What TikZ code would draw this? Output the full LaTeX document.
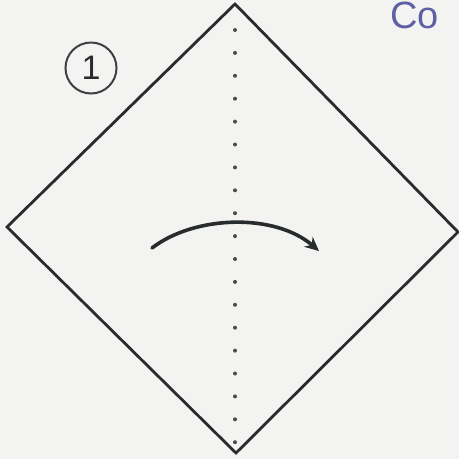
\documentclass[tikz,border=0pt]{standalone}
\usepackage{fontspec}
\setmainfont{Liberation Sans}
\usetikzlibrary{arrows.meta}
\definecolor{paper}{RGB}{243,244,241}
\definecolor{ink}{RGB}{40,44,44}
\definecolor{pen}{RGB}{95,95,165}
\tikzset{
  fold/.style={draw=ink, line width=2.8pt, line join=miter},
  crease/.style={fill=ink!85},
  turn/.style={draw=ink, line width=3.6pt, line cap=round, -{Stealth[length=14pt,width=13pt]}},
  stepnum/.style={circle, draw=ink!90, line width=2pt, minimum size=51pt, inner sep=0pt, font=\fontsize{34}{34}\selectfont, text=ink},
  note/.style={text=pen, font=\fontsize{38}{38}\selectfont, inner sep=0pt, anchor=north west}
}
\begin{document}
\begin{tikzpicture}[x=1pt,y=-1pt]
\fill[paper] (0,0) rectangle (459,459);
\useasboundingbox (0,0) rectangle (459,459);
\coordinate (t) at (235,4);
\coordinate (l) at (7,227);
\coordinate (r) at (458,232);
\coordinate (b) at (236,453);
\draw[fold] (t) -- (r) -- (b) -- (l) -- cycle;
\foreach \i in {0,...,18} {
  \fill[crease] (235,30+\i*22.9) circle (2pt);
}
\coordinate (a0) at (152,248);
\coordinate (a1) at (319,251);
\draw[turn] (a0) .. controls (195,215) and (275,213) .. (a1);
\node[stepnum] (n1) at (91,68) {1};
\node[note] (co) at (390,2) {Co};
\end{tikzpicture}
\end{document}
